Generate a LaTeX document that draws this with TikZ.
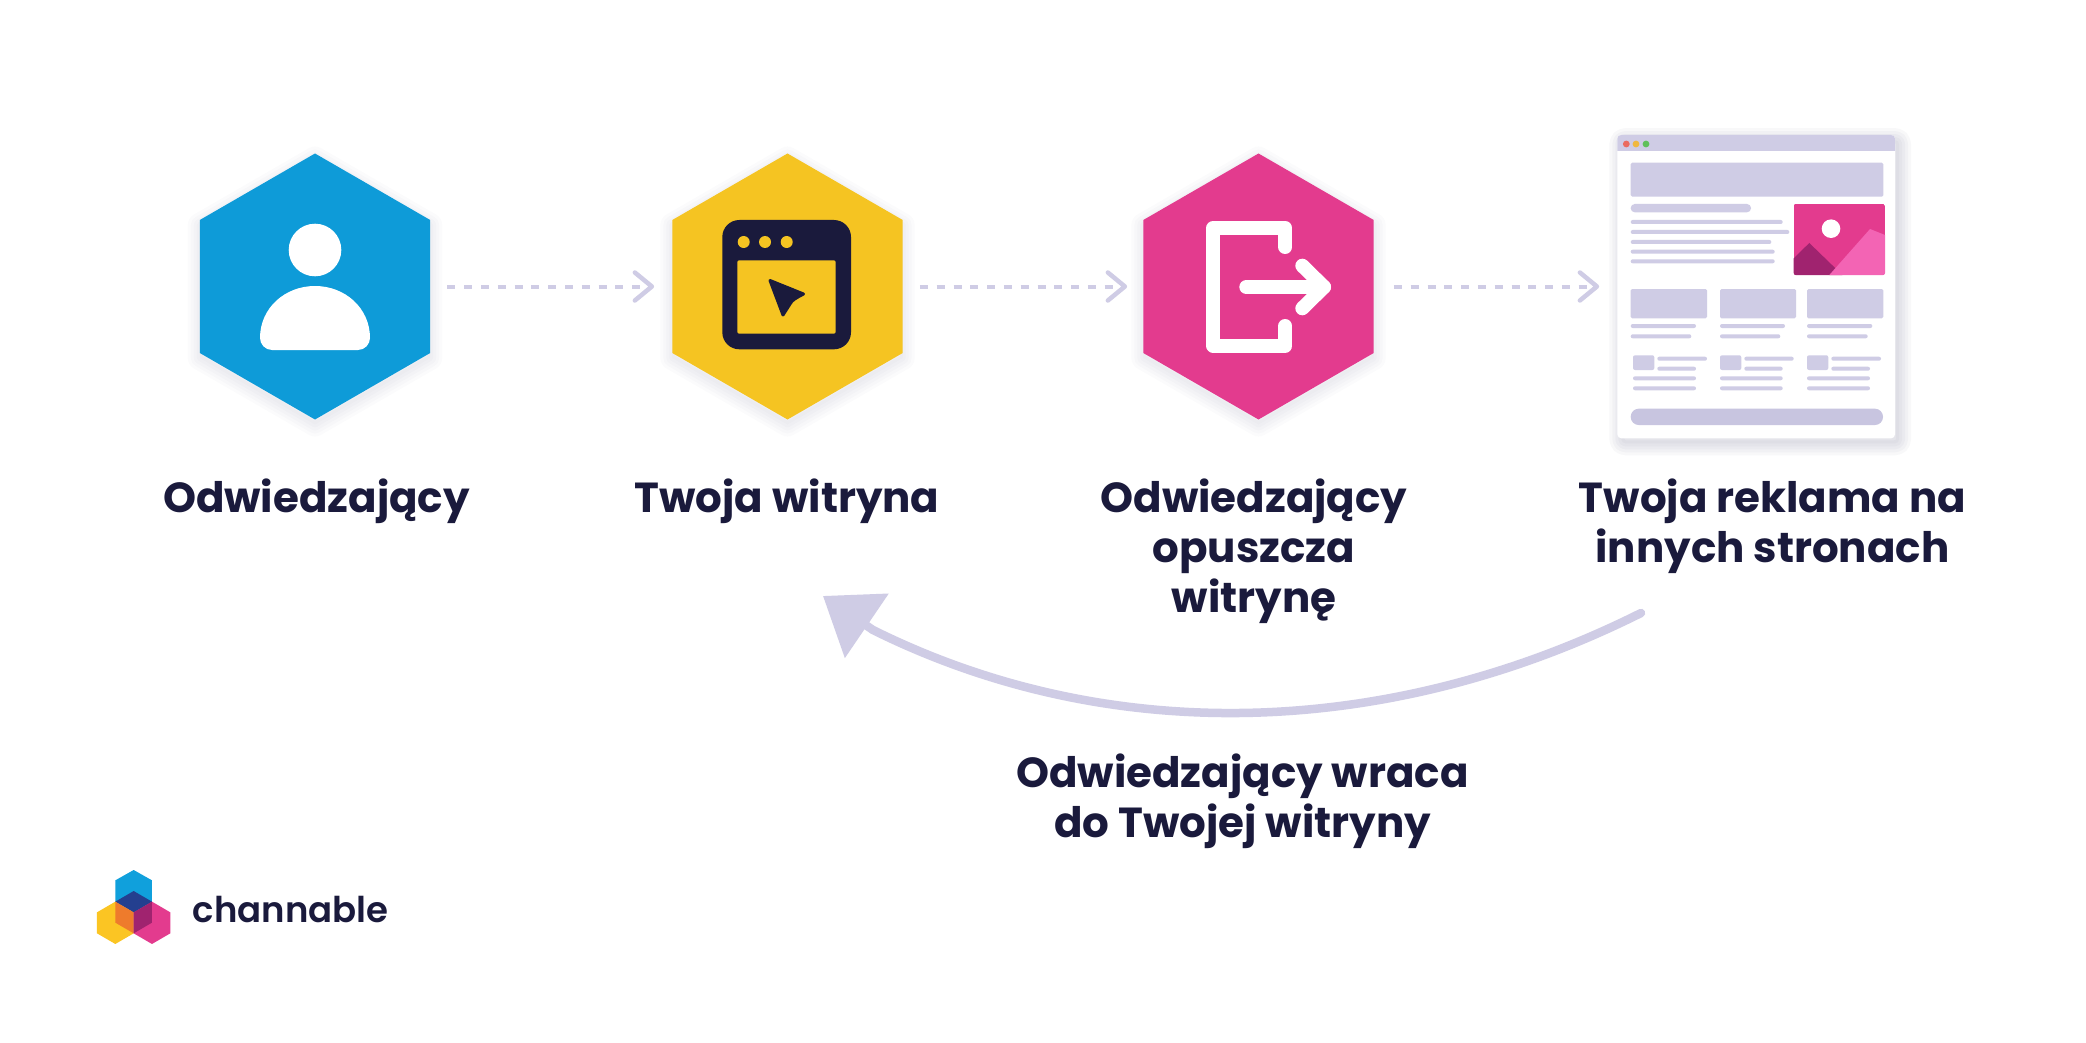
\documentclass[tikz,border=0pt]{standalone}
\usepackage{fontspec}
\usetikzlibrary{shapes.geometric,arrows.meta,calc}
\setmainfont{Poppins}
\newfontfamily\labelfamily{Poppins Bold}
\newfontfamily\logofamily{Poppins SemiBold}
\definecolor{inkc}{HTML}{1A1A3C}
\definecolor{lavc}{HTML}{CFCCE5}
\definecolor{lavd}{HTML}{C8C5E0}
\definecolor{bluec}{HTML}{0E9BD8}
\definecolor{yellowc}{HTML}{F5C422}
\definecolor{pinkc}{HTML}{E33B8E}
\definecolor{pinkl}{HTML}{F364B4}
\definecolor{purplec}{HTML}{A0236F}
\definecolor{shadowc}{HTML}{30305C}
\definecolor{dotr}{HTML}{EA6B5F}
\definecolor{doty}{HTML}{F0B840}
\definecolor{dotg}{HTML}{5FC05A}
\definecolor{logob}{HTML}{10A0DC}
\definecolor{logoy}{HTML}{FBC523}
\definecolor{logon}{HTML}{243F8F}
\definecolor{logoo}{HTML}{EE7B2C}
\newcommand{\lh}{\rule{0pt}{41pt}}
\tikzset{
  softshadow/.style n args={3}{
    preaction={draw=shadowc,line join=round,draw opacity=#3,line width=24pt,transform canvas={xshift=#1,yshift=#2}},
    preaction={draw=shadowc,line join=round,draw opacity=#3,line width=18pt,transform canvas={xshift=#1,yshift=#2}},
    preaction={draw=shadowc,line join=round,draw opacity=#3,line width=12pt,transform canvas={xshift=#1,yshift=#2}},
    preaction={draw=shadowc,line join=round,draw opacity=#3,line width=6pt,transform canvas={xshift=#1,yshift=#2}},
    preaction={fill=shadowc,fill opacity=#3,transform canvas={xshift=#1,yshift=#2}}},
  hexnode/.style={regular polygon,regular polygon sides=6,shape border rotate=30,minimum size=266pt,inner sep=0pt,softshadow={0pt}{-5pt}{.014},fill=#1},
  pagenode/.style={rectangle,rounded corners=4pt,minimum width=277.7pt,minimum height=303.3pt,inner sep=0pt,fill=white,softshadow={4pt}{-5pt}{.03}},
  labeltext/.style={font=\labelfamily\fontsize{42}{50}\selectfont,text=inkc,align=center,anchor=north,inner sep=0pt},
  flowdash/.style={draw=lavc,line width=4pt,dash pattern=on 8pt off 8.8pt,
    -{Straight Barb[length=17pt,width=28pt,line width=4.5pt,round]}},
  bar/.style={fill=lavc,rounded corners=2pt},
  box/.style={fill=lavc,rounded corners=1.5pt},
  whitestroke/.style={draw=white,line width=14pt,line cap=round,line join=round},
}
\begin{document}
\begin{tikzpicture}[x=1pt,y=-1pt]
\useasboundingbox (0,0) rectangle (2086,1043);
\fill[white] (0,0) rectangle (2086,1043);

% hexagons and page
\node[hexnode=bluec] (hexa) at (315,286.5) {};
\node[hexnode=yellowc] (hexb) at (787.5,286.5) {};
\node[hexnode=pinkc] (hexc) at (1258.5,286.5) {};
\node[pagenode] (page) at (1756.2,286.7) {};

% dashed connectors
\draw[flowdash,shorten <=17pt,shorten >=18pt] (hexa.east) -- (hexb.west);
\draw[flowdash,shorten <=17pt,shorten >=16pt] (hexb.east) -- (hexc.west);
\draw[flowdash,shorten <=20pt,shorten >=18pt] (hexc.east) -- (hexc.east -| page.west);

% person icon
\fill[white] (315,250) circle[radius=26.3pt];
\fill[white] (272,350) -- (358,350) .. controls (365,350) and (370,344) .. (370,338)
  .. controls (370,308) and (345,286) .. (315,286)
  .. controls (285,286) and (260,308) .. (260,338)
  .. controls (260,344) and (265,350) .. (272,350) -- cycle;

% window icon
\fill[inkc,rounded corners=17pt] (722.3,220) rectangle (851,349.3);
\foreach \dx in {743.7,765,786.7} \fill[yellowc] (\dx,242) circle[radius=6pt];
\fill[yellowc,rounded corners=2pt] (737.3,260.3) rectangle (835.7,333.7);
\filldraw[fill=inkc,draw=inkc,line width=3pt,line join=round]
  (770,280.5) -- (803.5,294) .. controls (796,298) and (792,300) .. (790,304) -- (783,315) -- cycle;

% exit icon
\draw[whitestroke] (1285.3,247) -- (1285.3,228) -- (1213.3,228) -- (1213.3,345.7) -- (1285.3,345.7) -- (1285.3,326);
\draw[whitestroke] (1246.3,287) -- (1324,287);
\draw[whitestroke] (1302.3,265.7) -- (1324,287) -- (1302.3,308.3);

% page mock-up
\fill[lavc] (1617.3,151) -- (1617.3,139) .. controls (1617.3,136.5) and (1618.8,135) .. (1621.3,135)
  -- (1891,135) .. controls (1893.5,135) and (1895,136.5) .. (1895,139) -- (1895,151) -- cycle;
\fill[dotr] (1626.3,144) circle[radius=3.4pt];
\fill[doty] (1636,144) circle[radius=3.4pt];
\fill[dotg] (1646,144) circle[radius=3.4pt];
\fill[box] (1630.7,162.7) rectangle (1883.3,196.7);
\fill[lavc,rounded corners=4pt] (1630.7,204) rectangle (1751,212.3);
\foreach \xb/\yy in {1782.7/222,1789.3/232,1771.3/242,1774.7/251.7,1774.7/261.3}
  \fill[bar] (1630.7,\yy-2) rectangle (\xb,\yy+2);
\begin{scope}
  \clip[rounded corners=2pt] (1793.7,204) rectangle (1885,275);
  \fill[pinkc] (1793.7,204) rectangle (1885,275);
  \fill[white] (1831,228.7) circle[radius=9.3pt];
  \fill[purplec] (1793.7,258.3) -- (1809.3,243) -- (1842.3,275) -- (1793.7,275) -- cycle;
  \fill[pinkl] (1829.3,275) -- (1870,229) -- (1885,235) -- (1885,275) -- cycle;
\end{scope}
\foreach \xa/\xb in {1630.7/1707,1720/1796,1807/1883.3}
  \fill[box] (\xa,289) rectangle (\xb,318.3);
\foreach \xa/\xb/\xc in {1630.7/1696/1691.3,1720/1785/1780.3,1807/1872.3/1867.7}{
  \fill[bar] (\xa,324) rectangle (\xb,328);
  \fill[bar] (\xa,334.3) rectangle (\xc,338.3);
}
\foreach \xa/\xm/\xr/\xs/\xe in {1633/1657.3/1707/1696/1696,1720/1744.3/1793.7/1782.7/1782.7,1807/1831.3/1881/1870/1870}{
  \fill[lavc,rounded corners=2pt] (\xa,355.3) rectangle (\xa+21.3,370);
  \fill[bar] (\xm,356.7) rectangle (\xr,360.7);
  \fill[bar] (\xm,366.7) rectangle (\xs,370.7);
  \fill[bar] (\xa,376.3) rectangle (\xe,380.3);
  \fill[bar] (\xa,386.3) rectangle (\xe,390.3);
}
\fill[lavd,rounded corners=8pt] (1630.7,408.7) rectangle (1883,425);

% labels
\node[labeltext] (la) at (316.5,471.7) {\lh Odwiedzający};
\node[labeltext] (lb) at (787,471.7) {\lh Twoja witryna};
\node[labeltext] (lc) at (1254,471.7) {\lh Odwiedzający\\opuszcza\\witrynę};
\node[labeltext] (ld) at (1772.5,471.7) {\lh Twoja reklama na\\innych stronach};
\node[labeltext] (le) at (1242.5,746.7) {\lh Odwiedzający wraca\\do Twojej witryny};

% return arrow
\coordinate (retfrom) at (1641,613);
\coordinate (retmid) at (873,630);
\coordinate (retto) at (823,596);
\draw[lavc,line width=8.5pt,line cap=round,-{Triangle[length=53pt,width=76pt]}]
  (retfrom) .. controls (1397,735) and (1117,751) .. (retmid) -- (retto);

% logo
\begin{scope}[shift={(80,860)},x=.3333pt,y=-.3333pt]
  \fill[logob] (161,30) -- (216,61) -- (216,125) -- (161,157) -- (106,125) -- (106,61) -- cycle;
  \fill[logoy] (106,125) -- (161,157) -- (161,220) -- (106,252) -- (51,220) -- (51,157) -- cycle;
  \fill[pinkc] (216,125) -- (271,157) -- (271,220) -- (216,252) -- (161,220) -- (161,157) -- cycle;
  \fill[logon] (161,93) -- (216,125) -- (161,157) -- (106,125) -- cycle;
  \fill[logoo] (106,125) -- (161,157) -- (161,220) -- (106,188) -- cycle;
  \fill[purplec] (216,125) -- (216,188) -- (161,220) -- (161,157) -- cycle;
\end{scope}
\node[anchor=base west,inner sep=0pt,text=inkc,font=\logofamily\fontsize{35.5}{36}\selectfont] (logo) at (192.7,922) {channable};
\end{tikzpicture}
\end{document}
